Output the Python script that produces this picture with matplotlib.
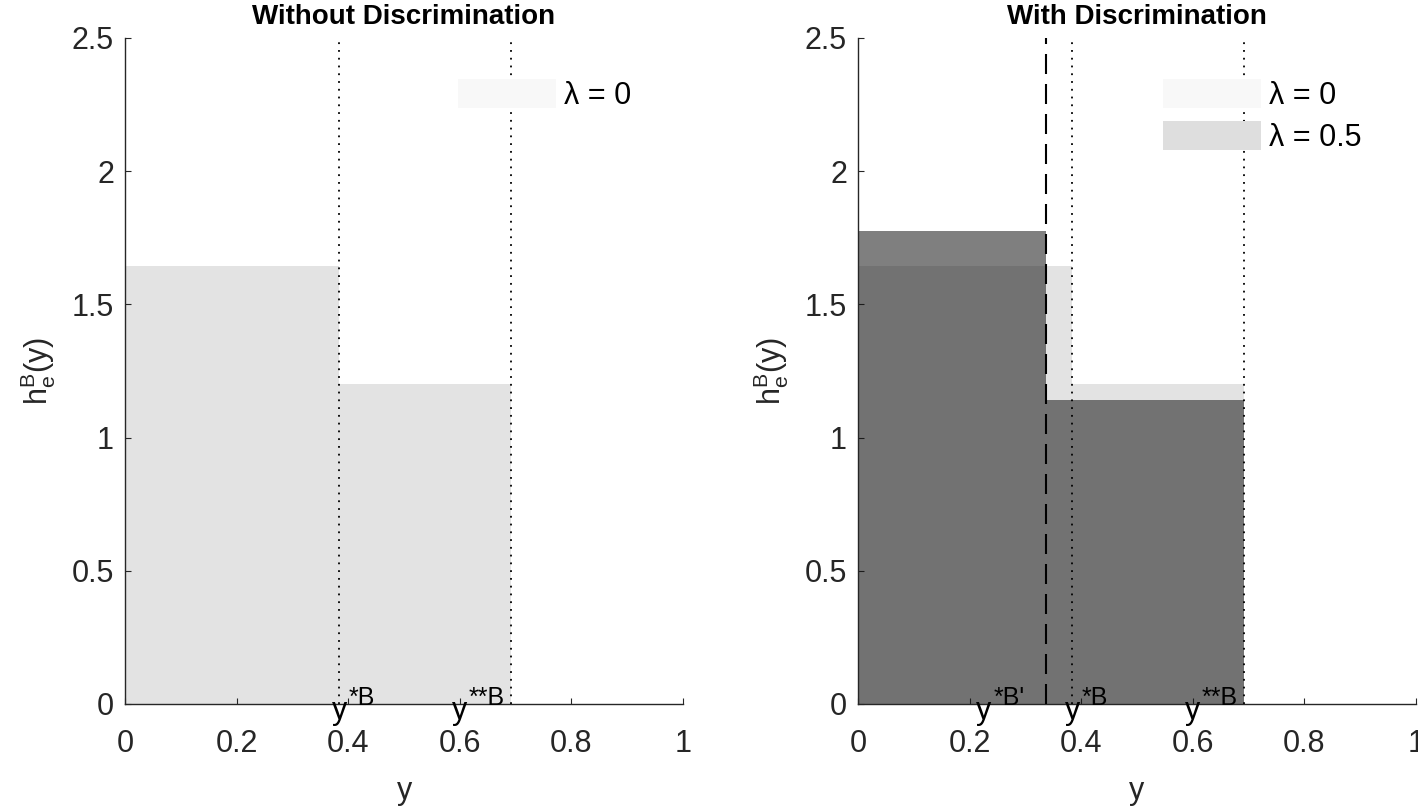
import numpy as np
import matplotlib
matplotlib.use('Agg')
import matplotlib.pyplot as plt
from matplotlib.patches import Patch

plt.rcParams['font.family'] = ['Liberation Sans', 'DejaVu Sans']
plt.rcParams['mathtext.fontset'] = 'custom'
plt.rcParams['mathtext.rm'] = 'Liberation Sans'
plt.rcParams['mathtext.it'] = 'Liberation Sans:italic'

# step densities h_e^B(y)
edges_lam0 = [0, 0.383, 0.692]
h_lam0 = [1.645, 1.2]
edges_lam05 = [0, 0.336, 0.692]
h_lam05 = [1.775, 1.14]

# thresholds
y_star = 0.383
y_2star = 0.692
y_star_prime = 0.336

titles = ['Without Discrimination', 'With Discrimination']
xticks = [0, 0.2, 0.4, 0.6, 0.8, 1]
xticklabels = ['0', '0.2', '0.4', '0.6', '0.8', '1']
yticks = [0, 0.5, 1, 1.5, 2, 2.5]
yticklabels = ['0', '0.5', '1', '1.5', '2', '2.5']

FS = 22
AXC = '#262626'
dotted = (0, (1, 3.3))
dashed = (0, (9.6, 4.8))

fig = plt.figure(figsize=(14.18, 8.06), dpi=100)
ax1 = fig.add_axes([0.0882, 0.1266, 0.3935, 0.8263])
ax2 = fig.add_axes([0.6051, 0.1266, 0.3935, 0.8263])


def bars(ax, edges, h, **kw):
    e = np.array(edges)
    ax.bar(e[:-1], h, width=np.diff(e), align='edge', linewidth=0, **kw)


def ylab(ax, x, sup):
    # "y" with superscript, sitting under/on the x axis
    ax.annotate('y', xy=(x, 0), xytext=(0, -10.8), textcoords='offset points',
                ha='left', va='baseline', fontsize=FS, color='k', annotation_clip=False)
    ax.annotate(sup, xy=(x, 0), xytext=(12.5, -0.7), textcoords='offset points',
                ha='left', va='baseline', fontsize=18, color='k', annotation_clip=False)


def style(ax, title):
    ax.set_xlim(0, 1)
    ax.set_ylim(0, 2.5)
    ax.spines['top'].set_visible(False)
    ax.spines['right'].set_visible(False)
    for s in ['left', 'bottom']:
        ax.spines[s].set_color(AXC)
        ax.spines[s].set_linewidth(1.0)
    ax.set_xticks(xticks)
    ax.set_xticklabels(xticklabels)
    ax.set_yticks(yticks)
    ax.set_yticklabels(yticklabels)
    ax.tick_params(direction='in', length=4, width=0.8, colors=AXC, labelsize=FS)
    ax.tick_params(axis='x', pad=18)
    ax.tick_params(axis='y', pad=8)
    ax.set_xlabel('y', fontsize=FS, color=AXC, labelpad=12)
    ax.set_ylabel(r'$\mathregular{h_e^B(y)}$', fontsize=FS, color=AXC, labelpad=10)
    ax.set_title(title, fontsize=20, fontweight='bold', pad=10)


# left panel
bars(ax1, edges_lam0, h_lam0, color='#e3e3e3', zorder=1)
ax1.axvline(y_star, color='k', lw=1.3, ls=dotted, zorder=3)
ax1.axvline(y_2star, color='k', lw=1.3, ls=dotted, zorder=3)
ylab(ax1, 0.370, '*B')
ylab(ax1, 0.585, '**B')
style(ax1, titles[0])
ax1.legend(handles=[Patch(facecolor='#f8f8f8', edgecolor='none')], labels=['λ = 0'],
           loc='upper left', bbox_to_anchor=(0.597, 0.9384), frameon=False, fontsize=FS,
           borderpad=0, borderaxespad=0, handlelength=3.2, handleheight=1.1,
           handletextpad=0.27, labelspacing=0.33)

# right panel
bars(ax2, edges_lam0, h_lam0, color='#e3e3e3', zorder=1)
bars(ax2, edges_lam05, h_lam05, color='#121212', alpha=0.536, zorder=2)
ax2.axvline(y_star_prime, color='k', lw=1.5, ls=dashed, zorder=3)
ax2.axvline(y_star, color='k', lw=1.3, ls=dotted, zorder=3)
ax2.axvline(y_2star, color='k', lw=1.3, ls=dotted, zorder=3)
ylab(ax2, 0.212, "*B'")
ylab(ax2, 0.370, '*B')
ylab(ax2, 0.585, '**B')
style(ax2, titles[1])
ax2.legend(handles=[Patch(facecolor='#f8f8f8', edgecolor='none'),
                    Patch(facecolor='#dedede', edgecolor='none')],
           labels=['λ = 0', 'λ = 0.5'],
           loc='upper left', bbox_to_anchor=(0.5466, 0.9384), frameon=False, fontsize=FS,
           borderpad=0, borderaxespad=0, handlelength=3.2, handleheight=1.1,
           handletextpad=0.27, labelspacing=0.33)

fig.savefig('out.png', dpi=100)
